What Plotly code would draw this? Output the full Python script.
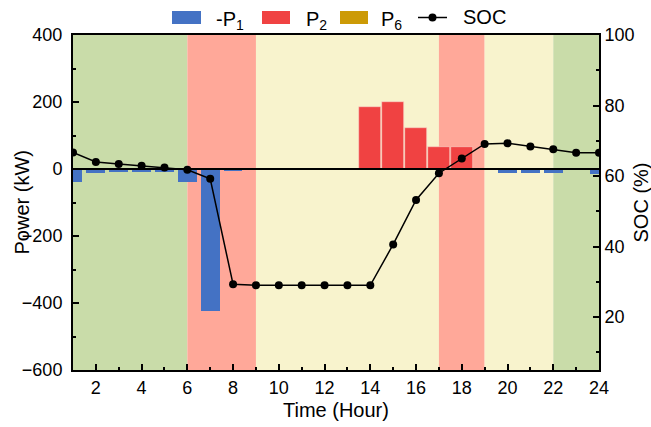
import plotly.graph_objects as go

hours = list(range(1, 25))
p1_neg = [-40, -11, -10, -10, -9, -40, -425, -5, 0, 0, 0, 0, 0, 0, 0, 0, 0, 0, 0, -13, -13, -13, 0, -15]
p2 = [0, 0, 0, 0, 0, 0, 0, 0, 0, 0, 0, 0, 0, 186, 200, 123, 67, 67, 0, 0, 0, 0, 0, 0]
p6 = [0] * 24
soc = [66.7, 64.0, 63.4, 62.9, 62.4, 61.8, 59.2, 29.3, 29.0, 29.0, 29.0, 29.0, 29.0, 29.0,
       40.6, 53.2, 60.8, 65.0, 69.1, 69.3, 68.4, 67.6, 66.6, 66.6]

# background periods (start, end, colour)
periods = [(1, 6, "#C9DCA9"), (6, 9, "#FFA899"), (9, 17, "#F8F3CD"),
           (17, 19, "#FFA899"), (19, 22, "#F8F3CD"), (22, 24, "#C9DCA9")]

BLUE, RED, GOLD = "#4472C4", "#F04242", "#CC9A06"
font = "Liberation Sans, Arial, sans-serif"

W, H = 651, 427
L, R, T, B = 73, 52, 35, 57
PW, PH = W - L - R, H - T - B


def px(x):
    return (x - L) / PW


def py(y):
    return (H - B - y) / PH


fig = go.Figure()
fig.add_trace(go.Bar(x=hours, y=p1_neg, name="-P1", marker_color=BLUE,
                     width=0.82, marker_line_width=0, showlegend=False))
fig.add_trace(go.Bar(x=hours, y=p2, name="P2", marker_color=RED,
                     width=0.96, marker_line_width=0.6, marker_line_color="#F9D6CE",
                     showlegend=False))
fig.add_trace(go.Bar(x=hours, y=p6, name="P6", marker_color=GOLD,
                     width=0.8, marker_line_width=0, showlegend=False))
fig.add_trace(go.Scatter(x=hours, y=soc, name="SOC", yaxis="y2", mode="lines+markers",
                         line=dict(color="black", width=1.5),
                         marker=dict(color="black", size=8), showlegend=False))

shapes = []
for s, e, c in periods:
    shapes.append(dict(type="rect", xref="x", yref="paper", x0=s, x1=e, y0=0, y1=1,
                       fillcolor=c, line_width=0, layer="below"))
shapes.append(dict(type="line", xref="paper", yref="y", x0=0, x1=1, y0=0, y1=0,
                   line=dict(color="black", width=2), layer="above"))

# manual legend (wide swatches as in the reference)
annotations = []
legend_items = [("rect", BLUE, 172, 201, "-P<sub>1</sub>", 214),
                ("rect", RED, 262, 290, "P<sub>2</sub>", 304),
                ("rect", GOLD, 340, 368, "P<sub>6</sub>", 379),
                ("line", "black", 418, 447, "SOC", 461)]
for kind, col, x0, x1, label, tx in legend_items:
    if kind == "rect":
        shapes.append(dict(type="rect", xref="paper", yref="paper", x0=px(x0), x1=px(x1),
                           y0=py(24), y1=py(11), fillcolor=col, line_width=0))
    else:
        shapes.append(dict(type="line", xref="paper", yref="paper", x0=px(x0), x1=px(x1),
                           y0=py(17.5), y1=py(17.5), line=dict(color=col, width=1.5)))
        shapes.append(dict(type="circle", xref="paper", yref="paper",
                           xsizemode="pixel", ysizemode="pixel",
                           xanchor=px((x0 + x1) / 2), yanchor=py(17.5),
                           x0=-4, x1=4, y0=-4, y1=4, fillcolor=col, line_width=0))
    sub = "<sub>" in label
    annotations.append(dict(text=label, xref="paper", yref="paper", x=px(tx), y=py(17.5),
                            xanchor="left", yanchor="middle", showarrow=False,
                            yshift=-3 if sub else 0,
                            font=dict(size=20, family=font, color="black")))

# axis titles
annotations.append(dict(text="Power (kW)", xref="paper", yref="paper", x=px(21), y=0.5,
                        xanchor="center", yanchor="middle", textangle=-90, showarrow=False,
                        font=dict(size=20, family=font, color="black")))
annotations.append(dict(text="SOC (%)", xref="paper", yref="paper", x=px(640), y=0.5,
                        xanchor="center", yanchor="middle", textangle=-90, showarrow=False,
                        font=dict(size=20, family=font, color="black")))
annotations.append(dict(text="Time (Hour)", xref="paper", yref="paper", x=0.5, y=py(410),
                        xanchor="center", yanchor="middle", showarrow=False,
                        font=dict(size=20, family=font, color="black")))

tick_common = dict(ticks="inside", ticklen=6, tickwidth=1.5, tickcolor="black",
                   showline=True, linecolor="black", linewidth=2, showgrid=False,
                   zeroline=False, automargin=False, tickfont=dict(size=18))

fig.update_layout(
    width=W, height=H,
    margin=dict(l=L, r=R, t=T, b=B),
    paper_bgcolor="white", plot_bgcolor="white",
    barmode="overlay", bargap=0, showlegend=False,
    shapes=shapes, annotations=annotations,
    font=dict(family=font, size=18, color="black"),
    xaxis=dict(range=[1, 24], tickvals=list(range(2, 25, 2)), mirror=True,
               minor=dict(tickvals=list(range(1, 25)), ticks="inside", ticklen=3,
                          tickcolor="black", tickwidth=1.5),
               **tick_common),
    yaxis=dict(range=[-600, 400], tickvals=[-600, -400, -200, 0, 200, 400],
               ticklabelstandoff=5,
               minor=dict(tickvals=list(range(-500, 400, 200)), ticks="inside", ticklen=3,
                          tickcolor="black", tickwidth=1.5),
               **tick_common),
    yaxis2=dict(range=[5, 100], overlaying="y", side="right",
                tickvals=[20, 40, 60, 80, 100],
                minor=dict(tickvals=[10, 30, 50, 70, 90], ticks="inside", ticklen=3,
                           tickcolor="black", tickwidth=1.5),
                **tick_common),
)

fig.write_html("out.html")
